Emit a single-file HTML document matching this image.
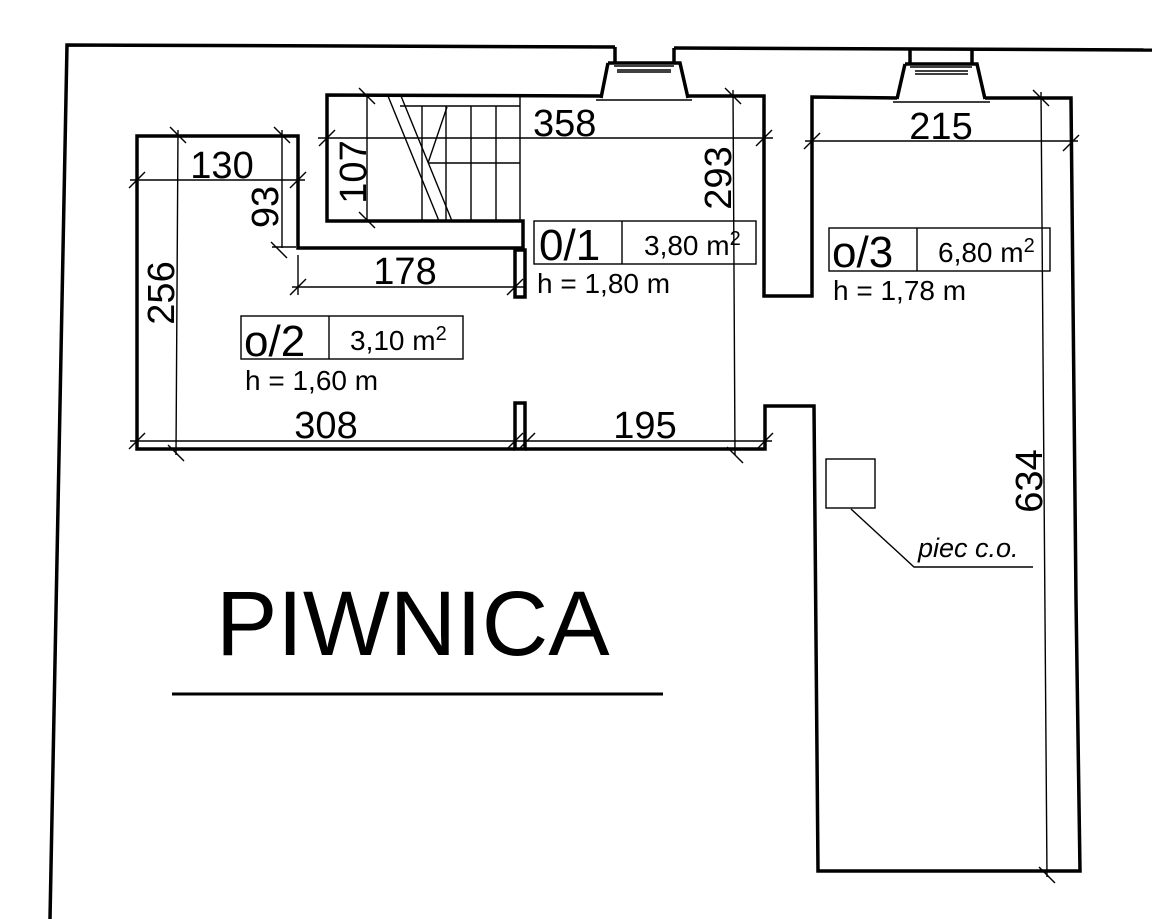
<!DOCTYPE html>
<html><head><meta charset="utf-8"><style>
html,body{margin:0;padding:0;background:#fff;}
svg{display:block;}
text{font-family:"Liberation Sans",Arial,sans-serif;fill:#000;}
</style></head><body>
<svg width="1152" height="919" viewBox="0 0 1152 919" xmlns="http://www.w3.org/2000/svg">
<g fill="none" stroke="#000" stroke-width="3.5">
<polyline points="50,919 67,45 615,47"/>
<polyline points="674,48 1152,50"/>
<line x1="615" y1="47" x2="615" y2="63"/>
<line x1="674" y1="48" x2="674" y2="63"/>
<line x1="910" y1="49" x2="910" y2="64"/>
<line x1="972" y1="49" x2="972" y2="64"/>
<polyline points="608,63 680,63 688,98"/>
<polyline points="608,63 601,98"/>
<polyline points="905,64 977,64 985,99"/>
<polyline points="905,64 897,99"/>
<polyline points="601,96 327,95 327,221 523,221 523,248 298,248 298,136 137,136 137,449 515,449"/>
<polyline points="688,96 764,96 764,296 812,296 812,97 897,98"/>
<polyline points="985,98 1071,98 1076,600 1080,871 818,871 814,406 765,406 765,449 525,449"/>
<rect x="515" y="250" width="10" height="47"/>
<rect x="515" y="403" width="10" height="46"/>
</g>
<g fill="none" stroke="#000" stroke-width="1.4">
<line x1="596" y1="100" x2="692" y2="100"/>
<line x1="893" y1="102" x2="990" y2="102"/>
<line x1="614" y1="66" x2="674" y2="66"/>
<line x1="617" y1="70" x2="671" y2="70"/>
<line x1="617" y1="72" x2="671" y2="72"/>
<line x1="910" y1="67" x2="972" y2="67"/>
<line x1="915" y1="71" x2="968" y2="71"/>
<line x1="915" y1="74" x2="968" y2="74"/>
<line x1="367" y1="96" x2="367" y2="221"/>
<line x1="422" y1="106" x2="422" y2="221"/>
<line x1="446" y1="106" x2="446" y2="221"/>
<line x1="471" y1="106" x2="471" y2="221"/>
<line x1="496" y1="106" x2="496" y2="221"/>
<line x1="520" y1="96" x2="520" y2="221"/>
<line x1="400" y1="106" x2="520" y2="106"/>
<line x1="428" y1="163" x2="520" y2="163"/>
<line x1="388" y1="96" x2="439" y2="221"/>
<line x1="401" y1="96" x2="452" y2="221"/>
<line x1="447" y1="107" x2="428" y2="163"/>
<line x1="318" y1="138" x2="773" y2="138"/>
<line x1="733" y1="90" x2="735" y2="455"/>
<line x1="130" y1="180" x2="305" y2="180"/>
<line x1="178" y1="130" x2="176" y2="455"/>
<line x1="282" y1="130" x2="282" y2="248"/>
<line x1="272" y1="247" x2="296" y2="247"/>
<line x1="298" y1="255" x2="298" y2="295"/>
<line x1="292" y1="287" x2="525" y2="287"/>
<line x1="130" y1="441" x2="772" y2="441"/>
<line x1="805" y1="141" x2="1078" y2="141"/>
<line x1="1041" y1="92" x2="1047" y2="877"/>
<line x1="319" y1="146" x2="335" y2="130"/>
<line x1="756" y1="146" x2="772" y2="130"/>
<line x1="129" y1="188" x2="145" y2="172"/>
<line x1="290" y1="188" x2="306" y2="172"/>
<line x1="290" y1="295" x2="306" y2="279"/>
<line x1="507" y1="295" x2="523" y2="279"/>
<line x1="129" y1="449" x2="145" y2="433"/>
<line x1="507" y1="449" x2="523" y2="433"/>
<line x1="519" y1="449" x2="535" y2="433"/>
<line x1="757" y1="449" x2="773" y2="433"/>
<line x1="804" y1="149" x2="820" y2="133"/>
<line x1="1063" y1="151" x2="1079" y2="135"/>
<line x1="359" y1="88" x2="375" y2="104"/>
<line x1="359" y1="212" x2="375" y2="228"/>
<line x1="725" y1="88" x2="741" y2="104"/>
<line x1="727" y1="447" x2="743" y2="463"/>
<line x1="170" y1="127" x2="186" y2="143"/>
<line x1="168" y1="445" x2="184" y2="461"/>
<line x1="274" y1="127" x2="290" y2="143"/>
<line x1="271" y1="242" x2="287" y2="258"/>
<line x1="1033" y1="90" x2="1049" y2="106"/>
<line x1="1039" y1="867" x2="1055" y2="883"/>
<rect x="534" y="221" width="222" height="43"/>
<line x1="622" y1="221" x2="622" y2="264"/>
<rect x="241" y="316" width="222" height="43"/>
<line x1="329" y1="316" x2="329" y2="359"/>
<rect x="829" y="228" width="221" height="43"/>
<line x1="917" y1="228" x2="917" y2="271"/>
<rect x="826" y="459" width="49" height="49"/>
<polyline points="851,509 914,567 1033,567"/>
</g>
<line x1="172" y1="694" x2="663" y2="694" stroke="#000" stroke-width="3"/>
<g font-size="38">
<text x="533" y="136">358</text>
<text x="941" y="139" text-anchor="middle">215</text>
<text x="222" y="178" text-anchor="middle">130</text>
<text x="405" y="284" text-anchor="middle">178</text>
<text x="326" y="438" text-anchor="middle">308</text>
<text x="645" y="438" text-anchor="middle">195</text>
<text transform="translate(366,172) rotate(-90)" text-anchor="middle">107</text>
<text transform="translate(731,178) rotate(-90)" text-anchor="middle">293</text>
<text transform="translate(174,293) rotate(-90)" text-anchor="middle">256</text>
<text transform="translate(278,207) rotate(-90)" text-anchor="middle">93</text>
<text transform="translate(1042,481) rotate(-90)" text-anchor="middle">634</text>
</g>
<g font-size="44">
<text x="539" y="260">0/1</text>
<text x="244" y="356">o/2</text>
<text x="832" y="267">o/3</text>
</g>
<g font-size="28">
<text x="644" y="255">3,80 m<tspan font-size="20" dy="-10">2</tspan></text>
<text x="350" y="350">3,10 m<tspan font-size="20" dy="-10">2</tspan></text>
<text x="938" y="262">6,80 m<tspan font-size="20" dy="-10">2</tspan></text>
<text x="537" y="293">h = 1,80 m</text>
<text x="245" y="390">h = 1,60 m</text>
<text x="833" y="300">h = 1,78 m</text>
</g>
<text x="918" y="557" font-size="27" font-style="italic">piec c.o.</text>
<text x="216" y="655" font-size="92">PIWNICA</text>
</svg>
</body></html>
